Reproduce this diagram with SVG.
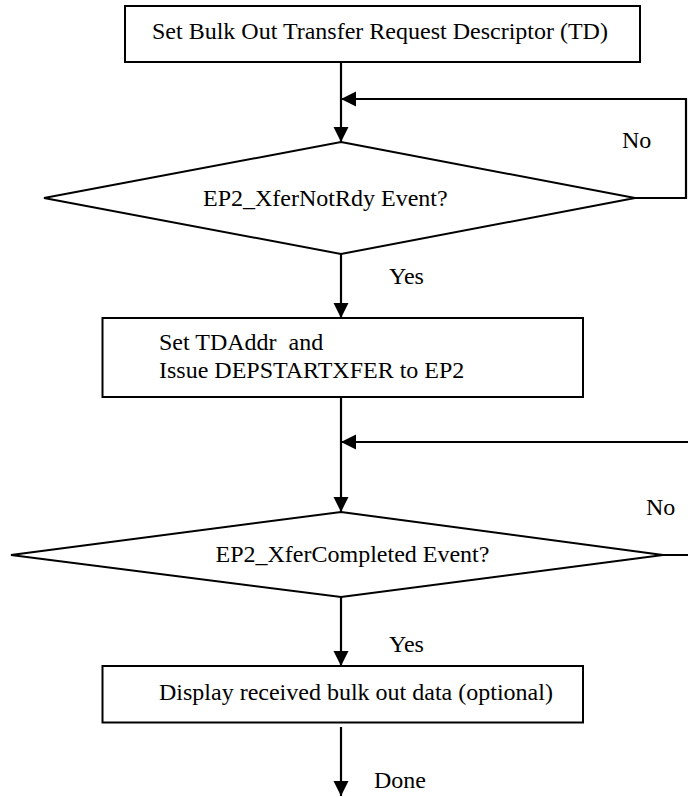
<svg xmlns="http://www.w3.org/2000/svg" width="688" height="797" viewBox="0 0 688 797">
  <defs>
    <style>
      .box { fill: #ffffff; stroke: #000000; stroke-width: 2; }
      .dia { fill: #ffffff; stroke: #000000; stroke-width: 2; stroke-linejoin: miter; }
      .conn { fill: none; stroke: #000000; stroke-width: 2.2; }
      .t { font-family: "Liberation Serif", "Times New Roman", serif; font-size: 24px; fill: #000000; }
    </style>
    <marker id="arrow" markerUnits="userSpaceOnUse" markerWidth="16" markerHeight="16" refX="15" refY="7.5" orient="auto">
      <path d="M0,0 L15,7.5 L0,15 Z" fill="#000000"/>
    </marker>
  </defs>
  <rect width="688" height="797" fill="#ffffff"/>

  <g id="connectors">
    <path class="conn" d="M341,62 V142" marker-end="url(#arrow)"/>
    <path class="conn" d="M635,198 H686 V99 H341" marker-end="url(#arrow)"/>
    <path class="conn" d="M341,254 V318" marker-end="url(#arrow)"/>
    <path class="conn" d="M341,397 V512" marker-end="url(#arrow)"/>
    <path class="conn" d="M663,555 H692 V442 H341" marker-end="url(#arrow)"/>
    <path class="conn" d="M341,597 V666" marker-end="url(#arrow)"/>
    <path class="conn" d="M341,727 V796" marker-end="url(#arrow)"/>
  </g>

  <g id="n_set_td">
    <rect class="box" x="125" y="6" width="515" height="56"/>
    <text class="t" x="152" y="39">Set Bulk Out Transfer Request Descriptor (TD)</text>
  </g>

  <g id="n_notrdy">
    <polygon class="dia" points="341,142 635,198 341,254 44,198"/>
    <text class="t" x="203" y="206">EP2_XferNotRdy Event?</text>
  </g>

  <g id="n_start">
    <rect class="box" x="102.5" y="318" width="480.5" height="79"/>
    <text class="t" x="159" y="350" xml:space="preserve">Set TDAddr  and</text>
    <text class="t" x="159" y="378">Issue DEPSTARTXFER to EP2</text>
  </g>

  <g id="n_completed">
    <polygon class="dia" points="341,512 663,555 341,597 11,555"/>
    <text class="t" x="215.5" y="562">EP2_XferCompleted Event?</text>
  </g>

  <g id="n_display">
    <rect class="box" x="102.5" y="666" width="480.5" height="56.5"/>
    <text class="t" x="159" y="700">Display received bulk out data (optional)</text>
  </g>

  <g id="labels">
    <text class="t" x="622" y="148">No</text>
    <text class="t" x="389" y="284">Yes</text>
    <text class="t" x="646" y="515">No</text>
    <text class="t" x="389" y="652">Yes</text>
    <text class="t" x="374" y="788">Done</text>
  </g>
</svg>
